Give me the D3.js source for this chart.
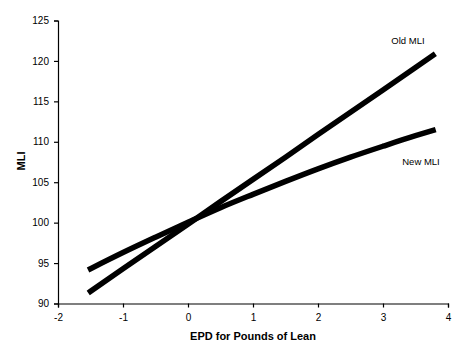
<!DOCTYPE html>
<html><head><meta charset="utf-8">
<script src="https://cdn.jsdelivr.net/npm/d3@7"></script>
<style>html,body{margin:0;padding:0;background:#fff;}svg{display:block;font-family:"Liberation Sans",Arial,sans-serif;}</style>
</head><body>
<svg id="c" width="465" height="358"></svg>
<script>
const xValues = [-1.5, -1, -0.5, 0, 0.5, 1, 1.5, 2, 2.5, 3, 3.5, 3.77];
const oldMLI = [91.5, 94.3, 97.05, 99.8, 102.6, 105.35, 108.1, 110.9, 113.65, 116.4, 119.2, 120.7];
const newMLI = [94.3, 96.3, 98.2, 100.05, 101.85, 103.5, 105.1, 106.65, 108.1, 109.45, 110.75, 111.4];
const seriesNames = ["Old MLI", "New MLI"];
const xTicks = [-2, -1, 0, 1, 2, 3, 4];
const yTicks = [90, 95, 100, 105, 110, 115, 120, 125];
const xTitle = "EPD for Pounds of Lean";
const yTitle = "MLI";

const svg = d3.select("#c");
const x = d3.scaleLinear().domain([-2, 4]).range([58, 448]);
const y = d3.scaleLinear().domain([90, 125]).range([303.5, 20.5]);

const xAxis = svg.append("g").attr("transform", "translate(0,303.5)")
  .call(d3.axisBottom(x).tickValues(xTicks).tickSize(4).tickPadding(6).tickFormat(d => String(d)));
const yAxis = svg.append("g").attr("transform", "translate(58,0)")
  .call(d3.axisLeft(y).tickValues(yTicks).tickSize(4).tickPadding(5).tickFormat(d => String(d)));
[xAxis, yAxis].forEach(a => {
  a.select(".domain").attr("stroke", "#000").attr("stroke-width", 1.2);
  a.selectAll(".tick line").attr("stroke", "#000").attr("stroke-width", 1.2);
  a.selectAll(".tick text").attr("font-size", "10px").attr("fill", "#000")
    .attr("font-family", "'Liberation Sans',Arial,sans-serif");
});

const lineOld = d3.line().x((d, i) => x(xValues[i])).y(d => y(d)).curve(d3.curveLinear);
const lineNew = d3.line().x((d, i) => x(xValues[i])).y(d => y(d)).curve(d3.curveMonotoneX);
svg.append("path").datum(oldMLI).attr("d", lineOld)
  .attr("fill", "none").attr("stroke", "#000").attr("stroke-width", 5.5)
  .attr("stroke-linecap", "square").attr("stroke-linejoin", "round");
svg.append("path").datum(newMLI).attr("d", lineNew)
  .attr("fill", "none").attr("stroke", "#000").attr("stroke-width", 5.5)
  .attr("stroke-linecap", "square").attr("stroke-linejoin", "round");

svg.append("text").attr("x", 408).attr("y", 44).attr("text-anchor", "middle")
  .attr("font-size", "9.5px").text(seriesNames[0]);
svg.append("text").attr("x", 421).attr("y", 165).attr("text-anchor", "middle")
  .attr("font-size", "9.5px").text(seriesNames[1]);

svg.append("text").attr("x", 253).attr("y", 340).attr("text-anchor", "middle")
  .attr("font-size", "11px").attr("font-weight", "bold").text(xTitle);
svg.append("text").attr("transform", "translate(25,161) rotate(-90)").attr("text-anchor", "middle")
  .attr("font-size", "11px").attr("font-weight", "bold").text(yTitle);
</script>
</body></html>
